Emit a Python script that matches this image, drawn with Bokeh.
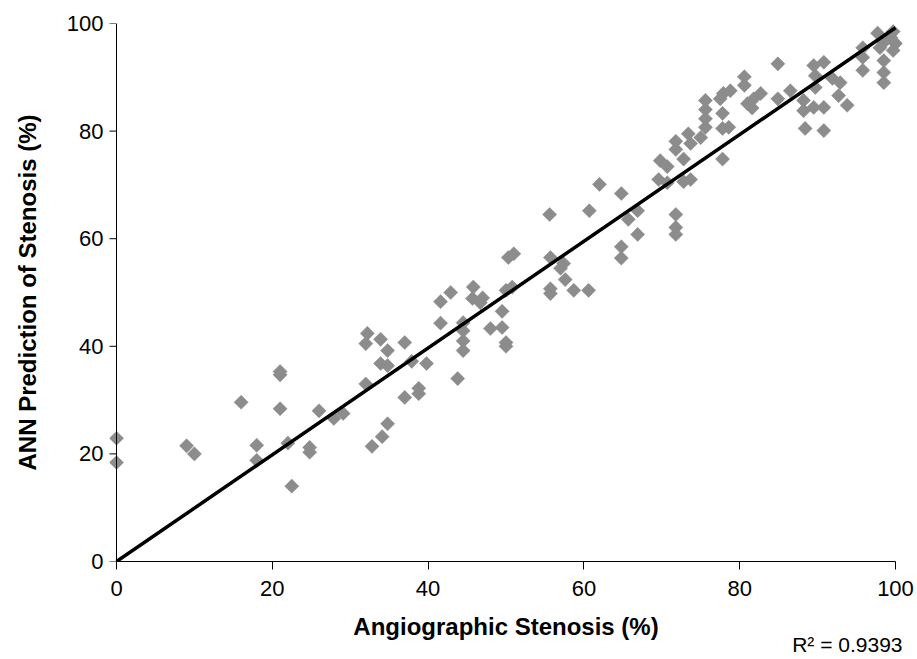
import math
from bokeh.plotting import figure
from bokeh.models import Range1d, Title, FixedTicker, Span
from bokeh.embed import file_html
from bokeh.resources import INLINE

# Angiographic stenosis (%) -> ANN prediction (%)
angio = [0, 0, 9, 10, 16, 18, 18, 21, 21, 21, 22, 22.5, 24.8, 24.8, 26, 27.9, 29.1,
         32, 32.8, 34.1, 34.8, 32.2, 32, 33.9, 34.8, 37, 33.9, 34.8, 37.9, 39.8,
         37, 38.8, 38.8, 41.6, 41.6, 43.8, 42.9, 45.8, 45.7, 47, 46.7, 44.5, 44.5,
         44.5, 44.5, 48, 49.5, 49.5, 50, 50, 50, 50.8, 50.3, 51, 55.7, 57.4, 57,
         57.6, 55.7, 55.7, 58.7, 60.6, 55.6, 62, 64.8, 60.7, 66.9, 65.7, 66.9, 64.8,
         64.8, 71.8, 71.8, 71.8, 69.8, 70.7, 69.6, 70.7, 72.8, 72.8, 73.7, 71.8,
         71.8, 73.4, 73.7, 75, 75.6, 75.6, 75.6, 75.6, 77.8, 77.8, 78.6, 77.8, 77.5,
         77.9, 78.8, 80.6, 80.6, 81, 81.6, 81.8, 82.7, 84.9, 84.9, 86.5, 88.2, 88.2,
         88.4, 89.5, 90.8, 90.8, 93.8, 92.7, 92.9, 91.9, 89.7, 89.7, 89.5, 90.8,
         95.8, 95.8, 95.8, 97.7, 99.4, 100, 99.7, 98.5, 98, 98.5, 98.5, 98.5, 99.7]
ann = [22.9, 18.4, 21.5, 20, 29.6, 21.6, 18.8, 35.3, 34.7, 28.4, 22, 14, 21.2, 20.3,
       28, 26.6, 27.5, 33, 21.4, 23.2, 25.6, 42.4, 40.5, 41.3, 39.2, 40.7, 36.8,
       36.4, 37.2, 36.8, 30.5, 32.2, 31.2, 48.3, 44.3, 34, 50, 51, 48.9, 49, 48.1,
       44.4, 42.9, 41, 39.2, 43.3, 46.5, 43.5, 40.7, 40, 50.4, 51, 56.5, 57.2, 56.5,
       55.4, 54.5, 52.4, 50.7, 49.8, 50.4, 50.4, 64.5, 70.1, 68.4, 65.2, 65.2, 63.6,
       60.8, 58.5, 56.4, 64.5, 62.1, 60.8, 74.5, 73.4, 71, 70.4, 74.8, 70.6, 71,
       78.1, 76.6, 79.5, 77.7, 78.8, 80.7, 82.3, 84, 85.7, 83.3, 80.5, 80.7, 74.8,
       86, 87, 87.5, 90.1, 88.5, 85.1, 84.3, 86, 87, 86, 92.5, 87.5, 85.7, 83.8,
       80.5, 84.4, 84.4, 80.1, 84.8, 86.6, 89, 89.8, 90.3, 88.1, 92.2, 92.8, 95.5,
       93.7, 91.3, 98.2, 97.4, 96.3, 95, 96.5, 95.5, 93.1, 90.9, 89, 98.5]

trend_x = [0, 100]
trend_y = [0, 99.2]
x_ticks = [0, 20, 40, 60, 80, 100]
y_ticks = [0, 20, 40, 60, 80, 100]
x_title = "Angiographic Stenosis (%)"
y_title = "ANN Prediction of Stenosis (%)"
r2_text = "R² = 0.9393"

FONT = "Liberation Sans"

# small x padding so the diamonds at 0 and 100 are not cut by the frame
p = figure(width=917, height=659, output_backend="svg", toolbar_location=None,
           x_range=Range1d(-0.9, 100.9), y_range=Range1d(0, 100),
           min_border_left=109, min_border_right=15, min_border_top=23,
           min_border_bottom=98)
p.background_fill_color = "white"
p.border_fill_color = "white"
p.outline_line_color = None
p.xgrid.visible = False
p.ygrid.visible = False

# y-axis line at x = 0 and its outward ticks
p.add_layout(Span(location=0, dimension="height", line_color="black", line_width=1))
p.segment(x0=[-1.0] * len(y_ticks), x1=[0] * len(y_ticks), y0=y_ticks, y1=y_ticks,
          line_color="black", line_width=1)

p.scatter(angio, ann, marker="square", angle=math.pi / 4, size=10,
          fill_color="#8c8c8c", line_color="#8c8c8c", line_width=0.5)
p.line(trend_x, trend_y, line_color="black", line_width=3.5)

for ax, ticks in ((p.xaxis[0], x_ticks), (p.yaxis[0], y_ticks)):
    ax.ticker = FixedTicker(ticks=ticks)
    ax.bounds = (0, 100)
    ax.minor_tick_line_color = None
    ax.major_tick_in = 0
    ax.major_tick_out = 8
    ax.axis_line_color = "black"
    ax.major_tick_line_color = "black"
    ax.major_label_text_font = FONT
    ax.major_label_text_font_size = "22px"
    ax.major_label_text_color = "black"
    ax.axis_label_text_font = FONT
    ax.axis_label_text_font_size = "24px"
    ax.axis_label_text_font_style = "bold"
    ax.axis_label_text_color = "black"

p.yaxis.axis_line_color = None
p.yaxis.major_tick_line_color = None
p.yaxis.major_tick_out = 0
p.xaxis.axis_label = x_title
p.yaxis.axis_label = y_title
p.xaxis.major_label_standoff = 11
p.xaxis.axis_label_standoff = 14
p.yaxis.major_label_standoff = 6
p.yaxis.axis_label_standoff = 23

p.add_layout(Title(text=r2_text, align="right", text_font=FONT,
                   text_font_size="21px", text_font_style="normal",
                   text_color="black", standoff=-26), "below")

open("out.html", "w").write(file_html(p, INLINE))
